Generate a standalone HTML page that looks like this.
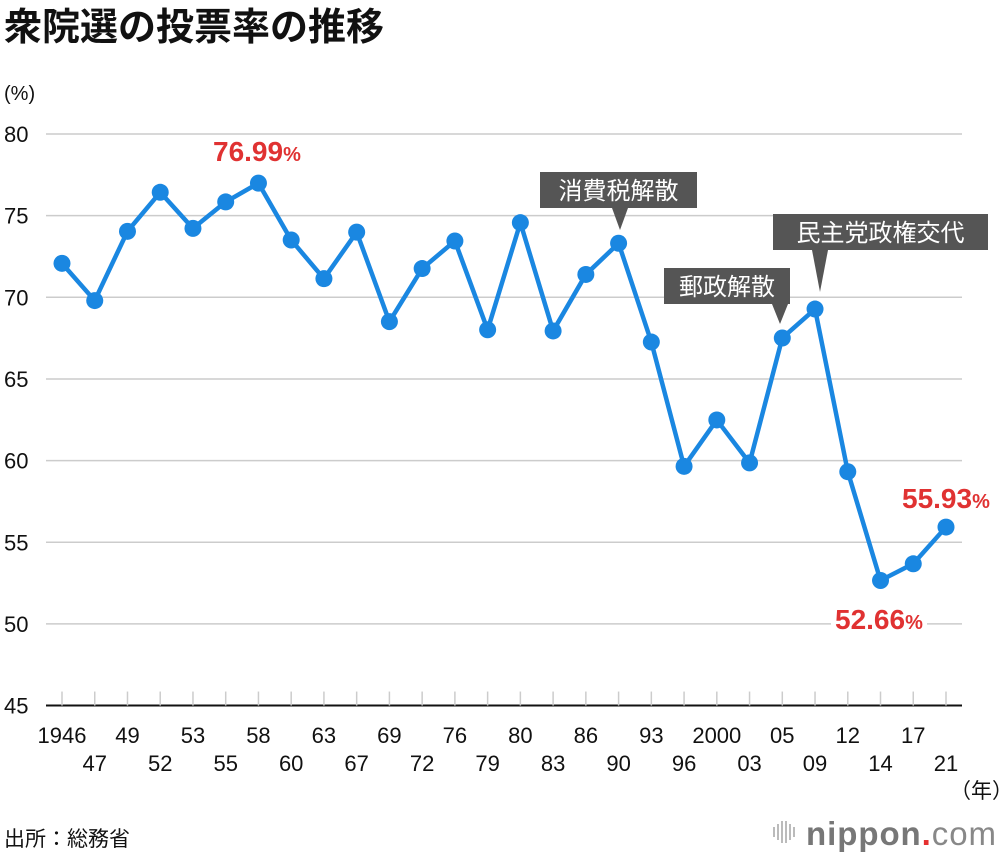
<!DOCTYPE html>
<html><head><meta charset="utf-8">
<style>
body{margin:0;background:#fff;}
svg text{font-family:"Liberation Sans","Noto Sans CJK JP",sans-serif;}
</style></head>
<body>
<svg id="chart" width="1000" height="856" viewBox="0 0 1000 856" xmlns="http://www.w3.org/2000/svg">
<text x="4" y="40" font-size="38" font-weight="bold" fill="#111">衆院選の投票率の推移</text>
<text x="4" y="100" font-size="20" fill="#111">(%)</text>
<g id="grid"></g>
<g id="xaxis"></g>
<g id="series"></g>
<g id="annot"></g>
<text x="950" y="798" font-size="21" fill="#111">（年）</text>
<text x="4" y="846" font-size="21" fill="#111">出所：総務省</text>
<g>
<g fill="#bbb"><rect x="773" y="827" width="2" height="10"/><rect x="777" y="824" width="2" height="16"/><rect x="781" y="821" width="2" height="22"/><rect x="785" y="821" width="2" height="22"/><rect x="789" y="824" width="2" height="16"/><rect x="793" y="827" width="2" height="10"/></g>
<text x="806" y="845" font-size="33" font-weight="bold" fill="#777" textLength="190">nippon<tspan fill="#e53030">.</tspan><tspan font-weight="normal" fill="#888">com</tspan></text>
</g>
</svg>
<script>
const years=["1946","47","49","52","53","55","58","60","63","67","69","72","76","79","80","83","86","90","93","96","2000","03","05","09","12","14","17","21"];
const turnout=[72.08,69.8,74.04,76.43,74.22,75.84,76.99,73.51,71.14,73.99,68.51,71.76,73.45,68.01,74.57,67.94,71.40,73.31,67.26,59.65,62.49,59.86,67.51,69.28,59.32,52.66,53.68,55.93];
const yTicks=[45,50,55,60,65,70,75,80];
const NS="http://www.w3.org/2000/svg";
const X0=62,X1=946,Y80=134,PER=16.33;
function xs(i){return X0+(X1-X0)*i/(years.length-1);}
function ys(v){return Y80+(80-v)*PER;}
function mk(tag,attrs,parent){const e=document.createElementNS(NS,tag);for(const k in attrs)e.setAttribute(k,attrs[k]);parent.appendChild(e);return e;}
const grid=document.getElementById('grid'),xa=document.getElementById('xaxis'),ser=document.getElementById('series'),an=document.getElementById('annot');
yTicks.forEach(t=>{
 if(t>45){const l=mk('line',{x1:46,x2:962,y1:ys(t),y2:ys(t),stroke:'#ccc','stroke-width':1.5},grid);
 
 }
 const tx=mk('text',{x:4,y:ys(t)+8,'font-size':22,fill:'#111'},grid);tx.textContent=t;
 
 
});
const ax=mk('line',{x1:46,x2:962,y1:ys(45),y2:ys(45),stroke:'#111','stroke-width':2},xa);


years.forEach((y,i)=>{
 const tk=mk('line',{x1:xs(i),x2:xs(i),y1:ys(45)-14,y2:ys(45),stroke:'#ccc','stroke-width':1.5},xa);
 
 
 const t=mk('text',{x:xs(i),y:i%2?771:743,'font-size':22,fill:'#111','text-anchor':'middle'},xa);t.textContent=y;
 
 
});
const pts=turnout.map((v,i)=>xs(i)+','+ys(v)).join(' ');
const pl=mk('polyline',{points:pts,fill:'none',stroke:'#1a87e1','stroke-width':4.5,'stroke-linejoin':'round'},ser);


turnout.forEach((v,i)=>{const c=mk('circle',{cx:xs(i),cy:ys(v),r:8.5,fill:'#1a87e1'},ser);
 
 });
function callout(name,text,bx,by,bw,tipX,tipY){
 const g=mk('g',{},an);
 
 
 mk('rect',{x:bx,y:by,width:bw,height:36,fill:'#555'},g);
 mk('polygon',{points:(tipX-8)+','+(by+36)+' '+(tipX+8)+','+(by+36)+' '+tipX+','+tipY,fill:'#555'},g);
 const t=mk('text',{x:bx+bw/2,y:by+27,'font-size':24,fill:'#fff','text-anchor':'middle'},g);t.textContent=text;
}
callout('annotation-consumption-tax','消費税解散',540,172,157,620,230);
callout('annotation-postal','郵政解散',664,268,126,780,324);
callout('annotation-dpj','民主党政権交代',773,214,215,820,292);
function red(name,txt,x,y,bg){
 const g=mk('g',{},an);
 
 
 if(bg)mk('rect',{x:x-4,y:y-24,width:96,height:30,fill:'#fff'},g);
 const t=mk('text',{x:x,y:y,'font-size':28,'font-weight':'bold',fill:'#e03232'},g);
 t.textContent=txt;const s=mk('tspan',{'font-size':20},t);s.textContent='%';
}
red('label-max','76.99',213,161,false);
red('label-2021','55.93',902,508,false);
red('label-min','52.66',835,629,true);
</script>
</body></html>
